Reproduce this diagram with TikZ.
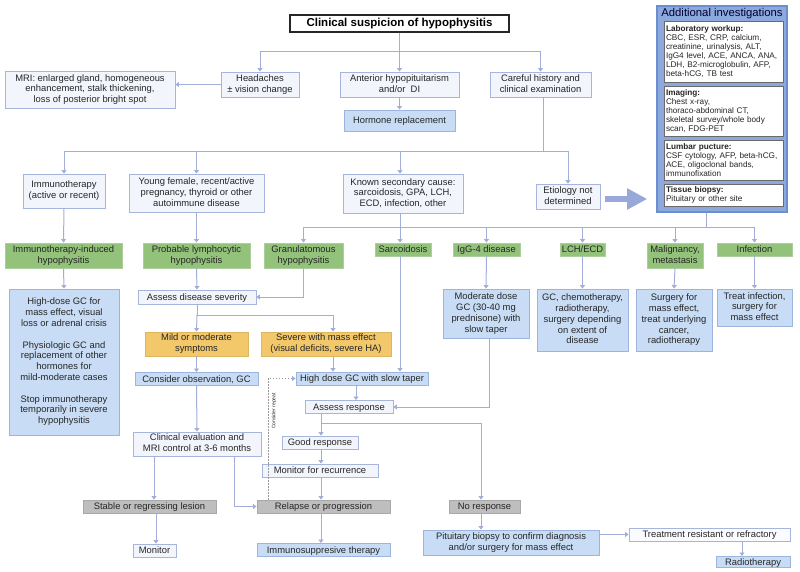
\documentclass[tikz,border=0pt]{standalone}
\usepackage{fontspec}
\setmainfont{Liberation Sans}
\usetikzlibrary{arrows.meta}
\definecolor{lc}{HTML}{A3AED8}
\definecolor{txt}{HTML}{262626}
\definecolor{wfill}{HTML}{F2F5FC}
\definecolor{wbord}{HTML}{A7B4DC}
\definecolor{bfill}{HTML}{C8DDF5}
\definecolor{bbord}{HTML}{9DB4DC}
\definecolor{gfill}{HTML}{93C27B}
\definecolor{gbord}{HTML}{ADCF9B}
\definecolor{yfill}{HTML}{F2C86B}
\definecolor{ybord}{HTML}{DDB662}
\definecolor{grfill}{HTML}{BEBEBE}
\definecolor{grbord}{HTML}{A8A8A8}
\definecolor{pfill}{HTML}{8CA8DC}
\definecolor{pbord}{HTML}{6A8ECE}
\definecolor{ibord}{HTML}{6A6A6A}
\definecolor{bigc}{HTML}{98A8D8}
\begin{document}
\begin{tikzpicture}[x=1pt,y=-1pt,
  font=\fontsize{9.4}{10.8}\selectfont,
  base/.style={draw, line width=0.9pt, inner sep=1pt, text=txt,
    execute at begin node={\rule[-2.2pt]{0pt}{11pt}},
    execute at end node={\rule[-2.2pt]{0pt}{2.2pt}}},
  ml/.style={align=center},
  wbox/.style={base, fill=wfill, draw=wbord},
  bbox/.style={base, fill=bfill, draw=bbord},
  gbox/.style={base, fill=gfill, draw=gbord},
  ybox/.style={base, fill=yfill, draw=ybord},
  grbox/.style={base, fill=grfill, draw=grbord},
  ibox/.style={draw=ibord, fill=white, line width=1pt, inner xsep=2pt, inner ysep=2pt, text width=115pt,
    minimum width=119pt, align=left, text=txt, font=\fontsize{8.2}{9.1}\selectfont},
  arr/.style={draw=lc, line width=1pt, -{Triangle[width=5pt,length=3.5pt]}},
  ln/.style={draw=lc, line width=1pt}]
\useasboundingbox[fill=white] (0,0) rectangle (800,571);

% top
\node[draw=black!85, fill=white, line width=1.3pt, inner sep=1pt, minimum width=219pt, minimum height=17pt,
  font=\fontsize{11.5}{13}\selectfont\bfseries, text=black] (title) at (399.5,23.5) {Clinical suspicion of hypophysitis};
\node[wbox, ml, minimum width=78pt, minimum height=25pt] (headaches) at (260,84.5) {Headaches\\± vision change};
\node[wbox, ml, minimum width=170pt, minimum height=37pt] (mri) at (90,89.5) {MRI: enlarged gland, homogeneous\\enhancement, stalk thickening,\\loss of posterior bright spot};
\node[wbox, ml, minimum width=119pt, minimum height=25pt] (anterior) at (399.5,84.5) {Anterior hypopituitarism\\and/or\ \ DI};
\node[bbox, minimum width=111pt, minimum height=21pt] (hormone) at (399.5,120.5) {Hormone replacement};
\node[wbox, ml, minimum width=101pt, minimum height=25pt] (careful) at (540.5,84.5) {Careful history and\\clinical examination};

% row 2
\node[wbox, ml, minimum width=82pt, minimum height=34pt] (immuno) at (64,191) {Immunotherapy\\(active or recent)};
\node[wbox, ml, minimum width=135pt, minimum height=38pt] (young) at (196.5,193) {Young female, recent/active\\pregnancy, thyroid or other\\autoimmune disease};
\node[wbox, ml, minimum width=120pt, minimum height=39pt] (known) at (403,193.5) {Known secondary cause:\\sarcoidosis, GPA, LCH,\\ECD, infection, other};
\node[wbox, ml, minimum width=64pt, minimum height=25pt] (etiology) at (568,196.5) {Etiology not\\determined};

% panel
\node[draw=pbord, fill=pfill, line width=1.6pt, minimum width=130pt, minimum height=206pt, inner sep=0pt] (panel) at (722,109) {};
\node[font=\fontsize{11.3}{13}\selectfont, text=black!80!blue, inner sep=0pt] (ptitle) at (722,13.5) {Additional investigations};
\node[ibox, minimum height=61pt] (lab) at (723.5,51.5) {\textbf{Laboratory workup:}\\CBC, ESR, CRP, calcium,\\creatinine, urinalysis, ALT,\\IgG4 level, ACE, ANCA, ANA,\\LDH, B2-microglobulin, AFP,\\beta-hCG, TB test};
\node[ibox, minimum height=50pt] (imaging) at (723.5,111) {\textbf{Imaging:}\\Chest x-ray,\\thoraco-abdominal CT,\\skeletal survey/whole body\\scan, FDG-PET};
\node[ibox, minimum height=40pt] (lumbar) at (723.5,160) {\textbf{Lumbar pucture:}\\CSF cytology, AFP, beta-hCG,\\ACE, oligoclonal bands,\\immunofixation};
\node[ibox, minimum height=22pt] (tissue) at (723.5,195) {\textbf{Tissue biopsy:}\\Pituitary or other site};

% green row
\node[gbox, ml, minimum width=117pt, minimum height=25pt] (iti) at (63.5,255.5) {Immunotherapy-induced\\hypophysitis};
\node[gbox, ml, minimum width=107pt, minimum height=25pt] (plh) at (196.5,255.5) {Probable lymphocytic\\hypophysitis};
\node[gbox, ml, minimum width=79pt, minimum height=25pt] (gran) at (303.5,255.5) {Granulatomous\\hypophysitis};
\node[gbox, minimum width=56pt, minimum height=13pt] (sarc) at (403,249.5) {Sarcoidosis};
\node[gbox, minimum width=67pt, minimum height=13pt] (igg) at (486.5,249.5) {IgG-4 disease};
\node[gbox, minimum width=45pt, minimum height=13pt] (lch) at (582.5,249.5) {LCH/ECD};
\node[gbox, ml, minimum width=56pt, minimum height=25pt] (malig) at (675,255.5) {Malignancy,\\metastasis};
\node[gbox, minimum width=75pt, minimum height=13pt] (infect) at (754.5,249.5) {Infection};

% row 4
\node[bbox, ml, minimum width=110pt, minimum height=146pt] (itbox) at (64,362) {High-dose GC for\\mass effect, visual\\loss or adrenal crisis\\[10.8pt]Physiologic GC and\\replacement of other\\hormones for\\mild-moderate cases\\[10.8pt]Stop immunotherapy\\temporarily in severe\\hypophysitis};
\node[wbox, minimum width=118pt, minimum height=14pt] (assess) at (197,297) {Assess disease severity};
\node[ybox, ml, minimum width=103pt, minimum height=24pt] (mild) at (196.5,344) {Mild or moderate\\symptoms};
\node[ybox, ml, minimum width=130pt, minimum height=24pt] (severe) at (326,344) {Severe with mass effect\\(visual deficits, severe HA)};
\node[bbox, minimum width=123pt, minimum height=13pt] (consobs) at (196.5,379) {Consider observation, GC};
\node[bbox, minimum width=132pt, minimum height=13pt] (highdose) at (362,378.5) {High dose GC with slow taper};
\node[wbox, minimum width=88pt, minimum height=13pt] (assessr) at (349,407) {Assess response};
\node[bbox, ml, minimum width=86pt, minimum height=49pt] (moderate) at (486,313.5) {Moderate dose\\GC (30-40 mg\\prednisone) with\\slow taper};
\node[bbox, ml, minimum width=91pt, minimum height=62pt] (gcchemo) at (582.5,320) {GC, chemotherapy,\\radiotherapy,\\surgery depending\\on extent of\\disease};
\node[bbox, ml, minimum width=76pt, minimum height=62pt] (surgery) at (674,320) {Surgery for\\mass effect,\\treat underlying\\cancer,\\radiotherapy};
\node[bbox, ml, minimum width=75pt, minimum height=37pt] (treatinf) at (754.5,307.5) {Treat infection,\\surgery for\\mass effect};

% lower part
\node[wbox, ml, minimum width=128pt, minimum height=24pt] (cliniceval) at (197,444) {Clinical evaluation and\\MRI control at 3-6 months};
\node[wbox, minimum width=76pt, minimum height=13pt] (good) at (320,442.5) {Good response};
\node[wbox, minimum width=116pt, minimum height=13pt] (monrec) at (320,470.5) {Monitor for recurrence};
\node[grbox, minimum width=133pt, minimum height=13pt] (relapse) at (323.5,506.5) {Relapse or progression};
\node[bbox, minimum width=133pt, minimum height=13pt] (immsup) at (323.5,550) {Immunosuppresive therapy};
\node[grbox, minimum width=133pt, minimum height=13pt] (stable) at (149.5,506.5) {Stable or regressing lesion};
\node[wbox, minimum width=43pt, minimum height=13pt] (monitor) at (154.5,550.5) {Monitor};
\node[grbox, minimum width=71pt, minimum height=13pt] (noresp) at (484.5,506.5) {No response};
\node[bbox, ml, minimum width=176pt, minimum height=25pt] (pituitary) at (511,542.5) {Pituitary biopsy to confirm diagnosis\\and/or surgery for mass effect};
\node[wbox, fill=white!60!wfill, minimum width=161pt, minimum height=13pt] (treatres) at (709.5,534.5) {Treatment resistant or refractory};
\node[bbox, inner ysep=0pt, minimum width=74pt, minimum height=11pt] (radio) at (753,562) {Radiotherapy};
\node[rotate=90, font=\fontsize{5}{6}\selectfont, text=txt, inner sep=0pt] (crlab) at (274,411) {Consider repeat};

% coordinates
\coordinate (j1) at (0,51);
\coordinate (j2) at (0,151);
\coordinate (j3) at (0,227);
\coordinate (j4) at (0,315);
\coordinate (j5) at (0,423);
\coordinate (x400) at (400,0);
\coordinate (px) at (706,0);
\coordinate (x333) at (333,0);
\coordinate (x356) at (356,0);
\coordinate (x321) at (321,0);
\coordinate (x481) at (481,0);
\coordinate (x154) at (154,0);
\coordinate (x156) at (156,0);
\coordinate (x234) at (234,0);
\coordinate (x742) at (742,0);
\coordinate (dotx) at (268,0);
\coordinate (x543) at (543,0);

% connectors top
\draw[arr] (title.south) -- (title.south |- j1) -| (headaches.north);
\draw[arr] (title.south) -- (anterior.north);
\draw[arr] (title.south |- j1) -| (careful.north);
\draw[arr] (headaches.west) -- (mri.east |- headaches.west);
\draw[arr] (anterior.south) -- (hormone.north);

\draw[ln] (careful.south -| x543) -- (x543 |- j2);
\draw[ln] (immuno.north |- j2) -- (etiology.north |- j2);
\draw[arr] (immuno.north |- j2) -- (immuno.north);
\draw[arr] (young.north |- j2) -- (young.north);
\draw[arr] (x400 |- j2) -- (known.north -| x400);
\draw[arr] (etiology.north |- j2) -- (etiology.north);

% big arrow
\draw[draw=bigc, line width=6pt, shorten <=5pt, shorten >=9pt, -{Triangle[width=20pt,length=20pt]}]
  ([yshift=-2.5pt]etiology.east) -- ([yshift=-2.5pt]panel.west |- etiology.east);

% row 3 junction
\draw[ln] (known.south -| x400) -- (x400 |- j3);
\draw[ln] (panel.south -| px) -- (px |- j3);
\draw[ln] (gran.north |- j3) -- (infect.north |- j3);
\draw[arr] (gran.north |- j3) -- (gran.north);
\draw[arr] (x400 |- j3) -- (sarc.north -| x400);
\draw[arr] (igg.north |- j3) -- (igg.north);
\draw[arr] (lch.north |- j3) -- (lch.north);
\draw[arr] (malig.north |- j3) -- (malig.north);
\draw[arr] (infect.north |- j3) -- (infect.north);
\draw[arr] (immuno.south) -- (iti.north);
\draw[arr] (young.south) -- (plh.north);

% row 3 -> row 4
\draw[arr] (iti.south) -- (itbox.north);
\draw[arr] (plh.south) -- (assess.north);
\draw[arr] (gran.south) |- (assess.east);
\draw[arr] (igg.south) -- (moderate.north);
\draw[arr] (lch.south) -- (gcchemo.north);
\draw[arr] (malig.south) -- (surgery.north);
\draw[arr] (infect.south) -- (treatinf.north);
\draw[arr] (sarc.south -| x400) -- (highdose.north -| x400);

% severity
\draw[ln] (assess.south) -- (assess.south |- j4) -- (x333 |- j4);
\draw[arr] (assess.south |- j4) -- (mild.north);
\draw[arr] (x333 |- j4) -- (severe.north -| x333);
\draw[arr] (mild.south) -- (consobs.north);
\draw[arr] (severe.south -| x333) -- (highdose.north -| x333);
\draw[arr] (highdose.south -| x356) -- (assessr.north -| x356);
\draw[arr] ([xshift=3pt]moderate.south) |- (assessr.east);
\draw[arr] (consobs.south) -- (cliniceval.north);

% response
\draw[arr] (assessr.south -| x321) -- (good.north -| x321);
\draw[arr] (x321 |- j5) -| (noresp.north -| x481);
\draw[arr] (good.south -| x321) -- (monrec.north -| x321);
\draw[arr] (monrec.south -| x321) -- (relapse.north -| x321);
\draw[arr] (relapse.south -| x321) -- (immsup.north -| x321);
\draw[arr] (cliniceval.south -| x154) -- (stable.north -| x154);
\draw[arr] (cliniceval.south -| x234) |- (relapse.west);
\draw[arr] (stable.south -| x156) -- (monitor.north -| x156);
\draw[arr] (noresp.south -| x481) -- (pituitary.north -| x481);
\draw[arr] (pituitary.east |- treatres.west) -- (treatres.west);
\draw[arr] (treatres.south -| x742) -- (radio.north -| x742);

% dotted consider repeat
\draw[draw=black!40, line width=0.8pt, dash pattern=on 1.5pt off 1.5pt, -{Triangle[width=5pt,length=3.5pt,color=lc]}]
  (relapse.north -| dotx) |- (highdose.west);
\end{tikzpicture}
\end{document}
